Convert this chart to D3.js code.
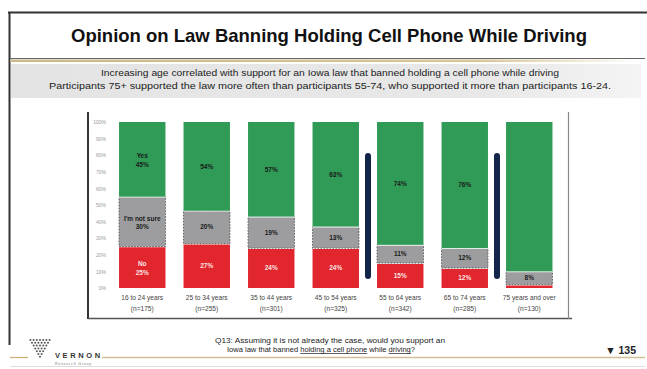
<!DOCTYPE html>
<html><head><meta charset="utf-8">
<script src="https://cdn.jsdelivr.net/npm/d3@7"></script>
<style>
html,body{margin:0;padding:0;background:#fff;}
svg{display:block;font-family:"Liberation Sans",Arial,sans-serif;}
</style></head>
<body>
<svg id="c" width="647" height="369"></svg>
<script>
const categories = ["16 to 24 years","25 to 34 years","35 to 44 years","45 to 54 years","55 to 64 years","65 to 74 years","75 years and over"];
const sampleSizes = ["(n=175)","(n=255)","(n=301)","(n=325)","(n=342)","(n=285)","(n=130)"];
const yesValues = [45,54,57,63,74,76,90];
const notSureValues = [30,20,19,13,11,12,8];
const noValues = [25,27,24,24,15,12,2];
const yTicks = [0,10,20,30,40,50,60,70,80,90,100];
const seriesKeys = ["no","notSure","yes"];
const seriesNames = {yes:"Yes", notSure:"I'm not sure", no:"No"};
const title = "Opinion on Law Banning Holding Cell Phone While Driving";
const subtitle = ["Increasing age correlated with support for an Iowa law that banned holding a cell phone while driving",
  "Participants 75+ supported the law more often than participants 55-74, who supported it more than participants 16-24."];
const separatorsAfter = [3,5];

const svg = d3.select("#c");
const colors = {yes:"#2f9b56", notSure:"#9d9d9f", no:"#e2262d"};

// frame
svg.append("line").attr("x1",8).attr("x2",647).attr("y1",12.5).attr("y2",12.5).attr("stroke","#333").attr("stroke-width",2);
svg.append("line").attr("x1",9.5).attr("x2",9.5).attr("y1",12).attr("y2",345).attr("stroke","#333").attr("stroke-width",2);
svg.append("text").attr("x",329).attr("y",42).attr("text-anchor","middle").attr("font-size",18.5).attr("font-weight","bold").attr("fill","#111").text(title);
svg.append("line").attr("x1",10).attr("x2",645).attr("y1",58.5).attr("y2",58.5).attr("stroke","#666").attr("stroke-width",1.2);
const g0 = svg.append("defs").append("linearGradient").attr("id","gold");
g0.append("stop").attr("offset","0").attr("stop-color","#c8b98a");
g0.append("stop").attr("offset","0.75").attr("stop-color","#d8c79a");
g0.append("stop").attr("offset","1").attr("stop-color","#ffffff");
svg.append("rect").attr("x",10).attr("y",59.5).attr("width",630).attr("height",2.5).attr("fill","url(#gold)");
const gb = svg.select("defs").append("linearGradient").attr("id","band");
gb.append("stop").attr("offset","0").attr("stop-color","#e4e4e4");
gb.append("stop").attr("offset","0.75").attr("stop-color","#e8e8e8");
gb.append("stop").attr("offset","1").attr("stop-color","#f4f4f4");
svg.append("rect").attr("x",11).attr("y",64).attr("width",630).attr("height",34).attr("fill","url(#band)");
subtitle.forEach((s,i)=>{
  svg.append("text").attr("x",330).attr("y",76+i*12.5).attr("text-anchor","middle").attr("font-size",8.6).attr("fill","#222").attr("textLength",i===0?458:562).attr("lengthAdjust","spacingAndGlyphs").text(s);
});

// chart box
svg.append("line").attr("x1",88).attr("x2",88).attr("y1",112).attr("y2",319).attr("stroke","#333").attr("stroke-width",2);
svg.append("line").attr("x1",88).attr("x2",572).attr("y1",318.5).attr("y2",318.5).attr("stroke","#555").attr("stroke-width",1.6);
svg.append("line").attr("x1",568.5).attr("x2",568.5).attr("y1",112).attr("y2",319).attr("stroke","#888").attr("stroke-width",1.2);

const x = d3.scaleBand().domain(categories).range([110,561.5]).paddingInner(0.28).paddingOuter(0.14);
const y = d3.scaleLinear().domain([0,1]).range([288,122]);

const rows = categories.map((c,i)=>({cat:c, yes:yesValues[i], notSure:notSureValues[i], no:noValues[i]}));
const stacked = d3.stack().keys(seriesKeys).offset(d3.stackOffsetExpand)(rows);

// y axis ticks
const yAxis = d3.axisLeft(d3.scaleLinear().domain([0,100]).range([288,122])).tickValues(yTicks).tickFormat(d=>d+"%").tickSize(0).tickPadding(0);
const ya = svg.append("g").attr("transform","translate(106,0)").call(yAxis);
ya.select(".domain").remove();
ya.selectAll("text").attr("font-size",5).attr("fill","#999").attr("font-family","Liberation Sans,Arial");

// bars
stacked.forEach(layer=>{
  const key = layer.key;
  const gl = svg.append("g");
  gl.selectAll("rect").data(layer).join("rect")
    .attr("x",d=>x(d.data.cat))
    .attr("y",d=>y(d[1]))
    .attr("width",x.bandwidth())
    .attr("height",d=>Math.max(0,y(d[0])-y(d[1])))
    .attr("fill",colors[key])
    .attr("stroke",key==="notSure"?"#444":"none")
    .attr("stroke-width",key==="notSure"?0.8:0)
    .attr("stroke-dasharray",key==="notSure"?"1.5,1.5":null);
  gl.selectAll("line").data(layer).join("line")
    .attr("x1",d=>x(d.data.cat)).attr("x2",d=>x(d.data.cat)+x.bandwidth())
    .attr("y1",d=>y(d[1])).attr("y2",d=>y(d[1]))
    .attr("stroke","#fff").attr("stroke-width",key==="yes"?0:1.6);
});

// labels
stacked.forEach(layer=>{
  const key = layer.key;
  layer.forEach((d,i)=>{
    const v = d.data[key];
    if (i===6 && key!=="notSure") return;
    const cx = x(d.data.cat)+x.bandwidth()/2;
    const cy = (y(d[0])+y(d[1]))/2;
    const fill = key==="no" ? "#fbe3e3" : "#1a1a1a";
    const t = svg.append("text").attr("x",cx).attr("text-anchor","middle").attr("font-size",6.5).attr("font-weight","bold").attr("fill",fill);
    if (i===0) {
      t.attr("y",cy-1);
      t.append("tspan").attr("x",cx).attr("dy",0).text(seriesNames[key]);
      t.append("tspan").attr("x",cx).attr("dy",8.5).text(v+"%");
    } else {
      t.attr("y",cy+2.3).text(v+"%");
    }
  });
});

// separators
separatorsAfter.forEach(i=>{
  const xa = x(categories[i])+x.bandwidth();
  const xb = x(categories[i+1]);
  svg.append("rect").attr("x",(xa+xb)/2-3).attr("y",153).attr("width",6).attr("height",126).attr("rx",3).attr("fill","#14254a");
});

// x labels
categories.forEach((c,i)=>{
  const cx = x(c)+x.bandwidth()/2;
  svg.append("text").attr("x",cx).attr("y",300).attr("text-anchor","middle").attr("font-size",6.6).attr("fill","#444").text(c);
  svg.append("text").attr("x",cx).attr("y",310.5).attr("text-anchor","middle").attr("font-size",6.6).attr("fill","#444").text(sampleSizes[i]);
});

// footer
svg.append("text").attr("x",330).attr("y",343).attr("text-anchor","middle").attr("font-size",7.2).attr("fill","#222").attr("textLength",230).attr("lengthAdjust","spacingAndGlyphs").text("Q13: Assuming it is not already the case, would you support an");
const f2 = svg.append("text").attr("x",321).attr("y",352).attr("text-anchor","middle").attr("font-size",7.2).attr("fill","#222").attr("textLength",188).attr("lengthAdjust","spacingAndGlyphs");
f2.append("tspan").text("Iowa law that banned ");
f2.append("tspan").attr("text-decoration","underline").text("holding a cell phone");
f2.append("tspan").text(" while ");
f2.append("tspan").attr("text-decoration","underline").text("driving");
f2.append("tspan").text("?");
svg.append("text").attr("x",636).attr("y",354).attr("text-anchor","end").attr("font-size",10.5).attr("font-weight","bold").attr("fill","#222").text("\u25BC 135");

// gold bottom line
svg.append("line").attr("x1",10).attr("x2",28).attr("y1",357.5).attr("y2",357.5).attr("stroke","#c9b070").attr("stroke-width",1.2);
svg.append("line").attr("x1",102).attr("x2",645).attr("y1",357.5).attr("y2",357.5).attr("stroke","#cfc096").attr("stroke-width",1.5);
svg.append("line").attr("x1",10).attr("x2",645).attr("y1",366.5).attr("y2",366.5).attr("stroke","#ddd").attr("stroke-width",1);

// logo dots triangle
const dotRows = [7,6,5,4,3,2,1];
dotRows.forEach((n,r)=>{
  for(let k=0;k<n;k++){
    svg.append("circle").attr("cx",40 - (n-1)*1.6 + k*3.2).attr("cy",340+r*2.8).attr("r",1).attr("fill","#555");
  }
});
svg.append("text").attr("x",55).attr("y",358).attr("font-size",7.5).attr("font-weight","bold").attr("letter-spacing",2.6).attr("fill","#333").text("VERNON");
svg.append("text").attr("x",55).attr("y",365).attr("font-size",3.5).attr("letter-spacing",0.8).attr("fill","#777").text("Research Group");
</script>
</body></html>
